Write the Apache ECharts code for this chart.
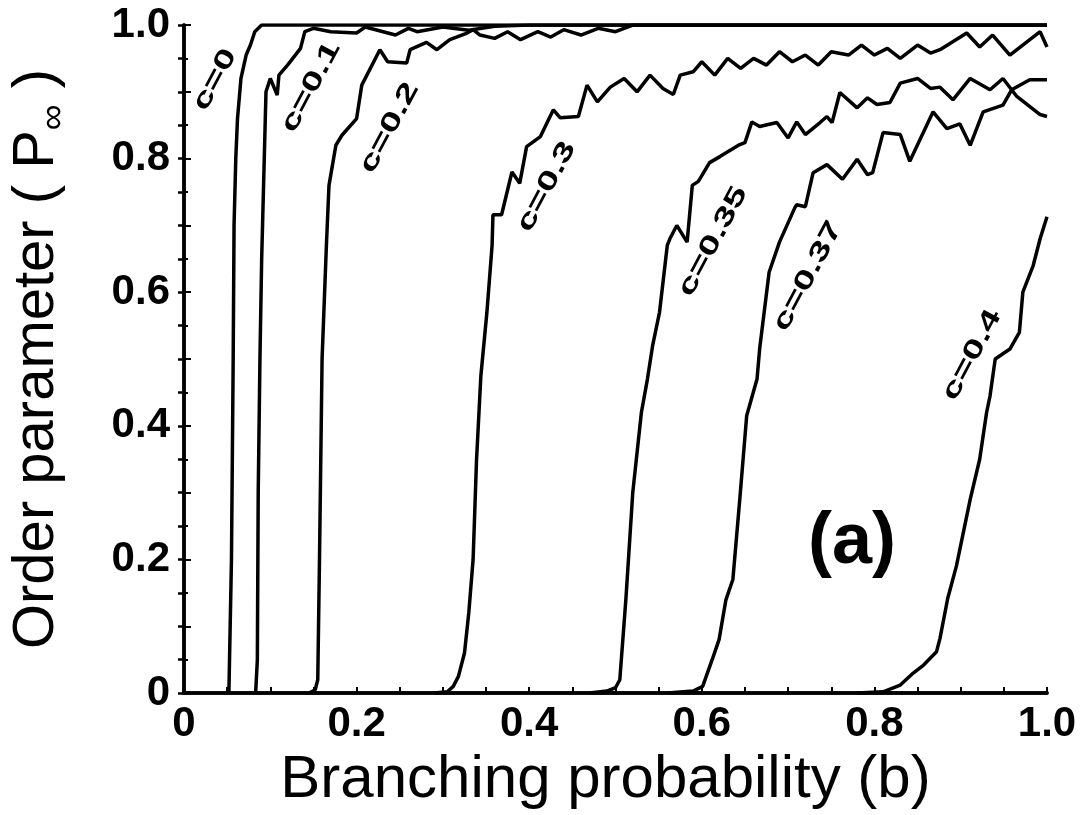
<!DOCTYPE html>
<html>
<head>
<meta charset="utf-8">
<script src="https://cdn.jsdelivr.net/npm/echarts@6/dist/echarts.min.js"></script>
<style>
  html, body { margin: 0; padding: 0; background: #fff; }
  #chart { width: 1091px; height: 815px; }
</style>
</head>
<body>
<div id="chart"></div>
<script>
// curves: [b, P]
const curveC0 = [[0.052,0],[0.055,0.2],[0.057,0.5],[0.058,0.7],[0.06,0.8],[0.062,0.86],[0.066,0.92],[0.072,0.955],[0.077,0.97],[0.082,0.99],[0.09,1.0],[1.0,1.0]]
const curveC01 = [[0.083,0],[0.085,0.05],[0.086,0.3],[0.088,0.5],[0.09,0.65],[0.093,0.8],[0.095,0.9],[0.1,0.92],[0.108,0.895],[0.11,0.925],[0.12,0.94],[0.135,0.965],[0.14,0.99],[0.15,0.995],[0.17,0.99],[0.2,0.988],[0.21,0.997],[0.245,0.985],[0.26,0.995],[0.27,0.99],[0.3,0.997],[0.33,0.992],[0.36,0.998],[0.4,1.0],[1.0,1.0]]
const curveC02 = [[0.145,0],[0.152,0.005],[0.155,0.02],[0.157,0.2],[0.16,0.5],[0.165,0.67],[0.168,0.76],[0.176,0.82],[0.183,0.835],[0.2,0.86],[0.206,0.91],[0.227,0.963],[0.236,0.945],[0.258,0.943],[0.262,0.963],[0.281,0.974],[0.293,0.963],[0.308,0.978],[0.328,0.988],[0.335,0.993],[0.343,0.985],[0.36,0.98],[0.375,0.99],[0.39,0.978],[0.41,0.99],[0.425,0.982],[0.44,0.993],[0.46,0.985],[0.48,0.995],[0.5,0.99],[0.52,1.0],[1.0,1.0]]
const curveC03 = [[0.29,0],[0.305,0.002],[0.312,0.01],[0.318,0.025],[0.325,0.06],[0.33,0.12],[0.335,0.2],[0.339,0.35],[0.344,0.475],[0.351,0.57],[0.357,0.67],[0.358,0.716],[0.368,0.716],[0.38,0.78],[0.389,0.763],[0.397,0.818],[0.413,0.833],[0.428,0.873],[0.436,0.861],[0.457,0.863],[0.467,0.91],[0.479,0.885],[0.494,0.907],[0.51,0.92],[0.525,0.9],[0.54,0.925],[0.555,0.905],[0.567,0.896],[0.575,0.925],[0.59,0.93],[0.6,0.945],[0.615,0.925],[0.63,0.95],[0.645,0.935],[0.66,0.95],[0.675,0.94],[0.69,0.96],[0.705,0.945],[0.72,0.955],[0.735,0.94],[0.75,0.96],[0.77,0.955],[0.785,0.97],[0.8,0.955],[0.815,0.965],[0.83,0.95],[0.85,0.97],[0.865,0.958],[0.876,0.963],[0.907,0.988],[0.922,0.967],[0.937,0.985],[0.957,0.955],[0.992,0.99],[1.0,0.967]]
const curveC035 = [[0.47,0],[0.49,0.003],[0.5,0.008],[0.505,0.02],[0.512,0.14],[0.52,0.3],[0.53,0.42],[0.537,0.47],[0.543,0.52],[0.551,0.57],[0.56,0.67],[0.563,0.68],[0.571,0.7],[0.583,0.675],[0.589,0.76],[0.596,0.766],[0.609,0.794],[0.621,0.803],[0.644,0.821],[0.65,0.824],[0.658,0.855],[0.667,0.848],[0.687,0.854],[0.7,0.831],[0.71,0.855],[0.72,0.836],[0.737,0.854],[0.745,0.863],[0.751,0.854],[0.76,0.899],[0.78,0.876],[0.792,0.891],[0.803,0.881],[0.818,0.884],[0.83,0.913],[0.85,0.92],[0.865,0.905],[0.876,0.907],[0.891,0.888],[0.911,0.92],[0.934,0.903],[0.949,0.92],[0.965,0.893],[0.992,0.866],[1.0,0.863]]
const curveC037 = [[0.56,0],[0.59,0.003],[0.601,0.01],[0.612,0.05],[0.62,0.08],[0.628,0.14],[0.636,0.17],[0.644,0.29],[0.652,0.415],[0.664,0.47],[0.667,0.515],[0.678,0.63],[0.69,0.675],[0.708,0.727],[0.71,0.731],[0.72,0.728],[0.729,0.779],[0.745,0.791],[0.763,0.769],[0.78,0.799],[0.792,0.776],[0.798,0.779],[0.81,0.839],[0.83,0.836],[0.841,0.796],[0.868,0.87],[0.884,0.845],[0.899,0.852],[0.911,0.82],[0.926,0.87],[0.949,0.88],[0.959,0.903],[0.98,0.918],[1.0,0.918]]
const curveC04 = [[0.78,0],[0.81,0.002],[0.83,0.012],[0.845,0.03],[0.857,0.042],[0.872,0.062],[0.876,0.082],[0.885,0.142],[0.895,0.19],[0.911,0.29],[0.922,0.35],[0.93,0.42],[0.934,0.445],[0.94,0.5],[0.957,0.515],[0.968,0.54],[0.972,0.6],[0.984,0.64],[0.992,0.68],[1.0,0.713]]

const curveNames = ['c=0', 'c=0.1', 'c=0.2', 'c=0.3', 'c=0.35', 'c=0.37', 'c=0.4']
const curves = [curveC0, curveC01, curveC02, curveC03, curveC035, curveC037, curveC04]
// where each curve label sits, in data units
const labelAt = [[0.036,0.918],[0.147,0.907],[0.238,0.846],[0.42,0.758],[0.613,0.676],[0.723,0.624],[0.913,0.506]]
const panelTag = '(a)'
const panelAt = [0.774, 0.225]

const FONT = "'Liberation Sans', Arial, Helvetica, sans-serif"

const chart = echarts.init(document.getElementById('chart'))

const tickFmt = v => {
  const r = Math.round(v * 10)
  if (r % 2 !== 0) return ''
  return r === 0 ? '0' : (r / 10).toFixed(1)
}

let option = {
  animation: false,
  backgroundColor: '#fff',
  grid: { left: 184, top: 25, right: 44, bottom: 120 },
  xAxis: [
    {
      type: 'value', min: 0, max: 1, interval: 0.1,
      name: 'Branching probability (b)',
      nameLocation: 'middle', nameGap: 56,
      nameTextStyle: { fontFamily: FONT, fontSize: 60, color: '#000', padding: [0, 20, 0, 0] },
      axisLine: { lineStyle: { color: '#000', width: 3.5 } },
      axisTick: { inside: true, length: 6, lineStyle: { color: '#000', width: 2 } },
      minorTick: { show: true, splitNumber: 2, length: 6, lineStyle: { color: '#000', width: 2 } },
      axisLabel: { formatter: tickFmt, fontFamily: FONT, fontWeight: 'bold', fontSize: 42, color: '#000', margin: 10 },
      splitLine: { show: false }
    },
    {
      type: 'value', min: 0, max: 1, position: 'top',
      axisLine: { lineStyle: { color: '#000', width: 3.5 } },
      axisTick: { show: false }, axisLabel: { show: false }, splitLine: { show: false }
    }
  ],
  yAxis: [
    {
      type: 'value', min: 0, max: 1, interval: 0.1,
      name: 'Order parameter ( P{s|∞} )',
      nameLocation: 'middle', nameGap: 112, nameRotate: 90,
      nameTextStyle: {
        fontFamily: FONT, fontSize: 58, color: '#000',
        rich: { s: { fontFamily: FONT, fontSize: 36, color: '#000', verticalAlign: 'bottom', padding: [34, 0, 0, 0] } }
      },
      axisLine: { lineStyle: { color: '#000', width: 3.5 } },
      axisTick: { inside: true, length: 7, lineStyle: { color: '#000', width: 2 } },
      minorTick: { show: true, splitNumber: 2, length: 4, lineStyle: { color: '#000', width: 2 } },
      axisLabel: { formatter: tickFmt, fontFamily: FONT, fontWeight: 'bold', fontSize: 42, color: '#000', margin: 14, padding: [14, 0, 0, 0] },
      splitLine: { show: false }
    },
    {
      type: 'value', min: 0, max: 1, interval: 0.05, position: 'right',
      axisLine: { lineStyle: { color: '#000', width: 3.5 } },
      axisTick: { inside: true, length: 6, lineStyle: { color: '#000', width: 2.5 } },
      axisLabel: { show: false }, splitLine: { show: false }
    }
  ],
  series: curves.map((d, i) => ({
    name: curveNames[i],
    type: 'line',
    data: d,
    showSymbol: false,
    symbol: 'none',
    lineStyle: { color: '#000', width: 3.5 },
    z: 3
  }))
}

chart.setOption(option)

// labels placed through the axes, rotated along the curves
const graphics = curveNames.map((t, i) => {
  const p = chart.convertToPixel({ xAxisIndex: 0, yAxisIndex: 0 }, labelAt[i])
  return {
    type: 'text', x: p[0], y: p[1], rotation: 62 * Math.PI / 180, scaleX: 1.5,
    style: { text: t, font: 'bold 26px ' + FONT, fill: '#000', align: 'center', verticalAlign: 'middle' }
  }
})
const pa = chart.convertToPixel({ xAxisIndex: 0, yAxisIndex: 0 }, panelAt)
graphics.push({
  type: 'text', x: pa[0], y: pa[1],
  style: { text: panelTag, font: 'bold 72px ' + FONT, fill: '#000', align: 'center', verticalAlign: 'middle' }
})
chart.setOption({ graphic: graphics })
</script>
</body>
</html>
